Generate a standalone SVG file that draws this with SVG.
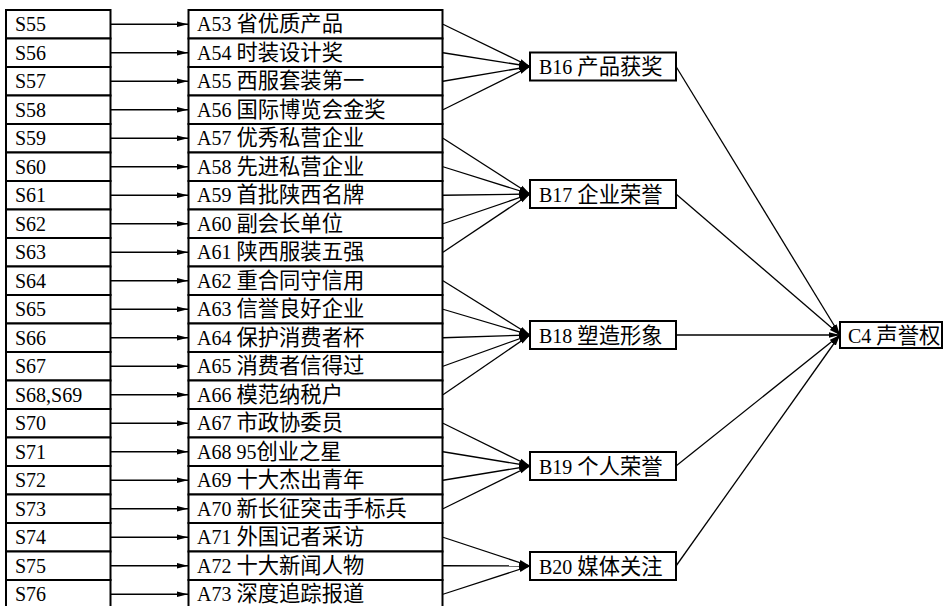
<svg xmlns="http://www.w3.org/2000/svg" width="950" height="606" viewBox="0 0 950 606">
<style>
.bx{fill:#fff;stroke:#000;stroke-width:2}
.t{font-family:"Liberation Serif","Noto Sans CJK SC",serif;font-size:20px;fill:#000}
.c{font-family:"Noto Sans CJK SC",sans-serif;font-size:21.3px}
.ln{stroke:#000;stroke-width:1.3;fill:none;marker-end:url(#ah)}
</style>
<defs>
<marker id="ah" markerWidth="12" markerHeight="7" refX="11" refY="3.5" orient="auto" markerUnits="userSpaceOnUse"><path d="M0,0.8 L11,3.5 L0,6.2 z" fill="#000"/></marker>
</defs>
<rect width="950" height="606" fill="#fff"/>
<g id="connectors">
<line class="ln" x1="111" y1="24.25" x2="188" y2="24.25"/>
<line class="ln" x1="111" y1="52.75" x2="188" y2="52.75"/>
<line class="ln" x1="111" y1="81.25" x2="188" y2="81.25"/>
<line class="ln" x1="111" y1="109.75" x2="188" y2="109.75"/>
<line class="ln" x1="111" y1="138.25" x2="188" y2="138.25"/>
<line class="ln" x1="111" y1="166.75" x2="188" y2="166.75"/>
<line class="ln" x1="111" y1="195.25" x2="188" y2="195.25"/>
<line class="ln" x1="111" y1="223.75" x2="188" y2="223.75"/>
<line class="ln" x1="111" y1="252.25" x2="188" y2="252.25"/>
<line class="ln" x1="111" y1="280.75" x2="188" y2="280.75"/>
<line class="ln" x1="111" y1="309.25" x2="188" y2="309.25"/>
<line class="ln" x1="111" y1="337.75" x2="188" y2="337.75"/>
<line class="ln" x1="111" y1="366.25" x2="188" y2="366.25"/>
<line class="ln" x1="111" y1="394.75" x2="188" y2="394.75"/>
<line class="ln" x1="111" y1="423.25" x2="188" y2="423.25"/>
<line class="ln" x1="111" y1="451.75" x2="188" y2="451.75"/>
<line class="ln" x1="111" y1="480.25" x2="188" y2="480.25"/>
<line class="ln" x1="111" y1="508.75" x2="188" y2="508.75"/>
<line class="ln" x1="111" y1="537.25" x2="188" y2="537.25"/>
<line class="ln" x1="111" y1="565.75" x2="188" y2="565.75"/>
<line class="ln" x1="111" y1="594.25" x2="188" y2="594.25"/>
<line class="ln" x1="443" y1="24.25" x2="530" y2="66.5"/>
<line class="ln" x1="443" y1="52.75" x2="530" y2="66.5"/>
<line class="ln" x1="443" y1="81.25" x2="530" y2="66.5"/>
<line class="ln" x1="443" y1="109.75" x2="530" y2="66.5"/>
<line class="ln" x1="443" y1="138.25" x2="530" y2="194"/>
<line class="ln" x1="443" y1="166.75" x2="530" y2="194"/>
<line class="ln" x1="443" y1="195.25" x2="530" y2="194"/>
<line class="ln" x1="443" y1="223.75" x2="530" y2="194"/>
<line class="ln" x1="443" y1="252.25" x2="530" y2="194"/>
<line class="ln" x1="443" y1="280.75" x2="530" y2="335"/>
<line class="ln" x1="443" y1="309.25" x2="530" y2="335"/>
<line class="ln" x1="443" y1="337.75" x2="530" y2="335"/>
<line class="ln" x1="443" y1="366.25" x2="530" y2="335"/>
<line class="ln" x1="443" y1="394.75" x2="530" y2="335"/>
<line class="ln" x1="443" y1="423.25" x2="530" y2="466"/>
<line class="ln" x1="443" y1="451.75" x2="530" y2="466"/>
<line class="ln" x1="443" y1="480.25" x2="530" y2="466"/>
<line class="ln" x1="443" y1="508.75" x2="530" y2="466"/>
<line class="ln" x1="443" y1="537.25" x2="530" y2="566"/>
<line class="ln" x1="443" y1="565.75" x2="530" y2="566"/>
<line class="ln" x1="443" y1="594.25" x2="530" y2="566"/>
<line class="ln" x1="676" y1="66.5" x2="840" y2="335"/>
<line class="ln" x1="676" y1="194" x2="840" y2="335"/>
<line class="ln" x1="676" y1="335" x2="840" y2="335"/>
<line class="ln" x1="676" y1="466" x2="840" y2="335"/>
<line class="ln" x1="676" y1="566" x2="840" y2="335"/>
</g>
<g id="S55"><rect class="bx" x="6" y="10" width="104.5" height="28.5"/><text class="t" x="15" y="31.25">S55</text></g>
<g id="S56"><rect class="bx" x="6" y="38.5" width="104.5" height="28.5"/><text class="t" x="15" y="59.75">S56</text></g>
<g id="S57"><rect class="bx" x="6" y="67" width="104.5" height="28.5"/><text class="t" x="15" y="88.25">S57</text></g>
<g id="S58"><rect class="bx" x="6" y="95.5" width="104.5" height="28.5"/><text class="t" x="15" y="116.75">S58</text></g>
<g id="S59"><rect class="bx" x="6" y="124" width="104.5" height="28.5"/><text class="t" x="15" y="145.25">S59</text></g>
<g id="S60"><rect class="bx" x="6" y="152.5" width="104.5" height="28.5"/><text class="t" x="15" y="173.75">S60</text></g>
<g id="S61"><rect class="bx" x="6" y="181" width="104.5" height="28.5"/><text class="t" x="15" y="202.25">S61</text></g>
<g id="S62"><rect class="bx" x="6" y="209.5" width="104.5" height="28.5"/><text class="t" x="15" y="230.75">S62</text></g>
<g id="S63"><rect class="bx" x="6" y="238" width="104.5" height="28.5"/><text class="t" x="15" y="259.25">S63</text></g>
<g id="S64"><rect class="bx" x="6" y="266.5" width="104.5" height="28.5"/><text class="t" x="15" y="287.75">S64</text></g>
<g id="S65"><rect class="bx" x="6" y="295" width="104.5" height="28.5"/><text class="t" x="15" y="316.25">S65</text></g>
<g id="S66"><rect class="bx" x="6" y="323.5" width="104.5" height="28.5"/><text class="t" x="15" y="344.75">S66</text></g>
<g id="S67"><rect class="bx" x="6" y="352" width="104.5" height="28.5"/><text class="t" x="15" y="373.25">S67</text></g>
<g id="S68S69"><rect class="bx" x="6" y="380.5" width="104.5" height="28.5"/><text class="t" x="15" y="401.75">S68,S69</text></g>
<g id="S70"><rect class="bx" x="6" y="409" width="104.5" height="28.5"/><text class="t" x="15" y="430.25">S70</text></g>
<g id="S71"><rect class="bx" x="6" y="437.5" width="104.5" height="28.5"/><text class="t" x="15" y="458.75">S71</text></g>
<g id="S72"><rect class="bx" x="6" y="466" width="104.5" height="28.5"/><text class="t" x="15" y="487.25">S72</text></g>
<g id="S73"><rect class="bx" x="6" y="494.5" width="104.5" height="28.5"/><text class="t" x="15" y="515.75">S73</text></g>
<g id="S74"><rect class="bx" x="6" y="523" width="104.5" height="28.5"/><text class="t" x="15" y="544.25">S74</text></g>
<g id="S75"><rect class="bx" x="6" y="551.5" width="104.5" height="28.5"/><text class="t" x="15" y="572.75">S75</text></g>
<g id="S76"><rect class="bx" x="6" y="580" width="104.5" height="28.5"/><text class="t" x="15" y="601.25">S76</text></g>
<g id="A53"><rect class="bx" x="188.5" y="10" width="254" height="28.5"/><text class="t" x="197" y="31.25">A53 <tspan class="c">省优质产品</tspan></text></g>
<g id="A54"><rect class="bx" x="188.5" y="38.5" width="254" height="28.5"/><text class="t" x="197" y="59.75">A54 <tspan class="c">时装设计奖</tspan></text></g>
<g id="A55"><rect class="bx" x="188.5" y="67" width="254" height="28.5"/><text class="t" x="197" y="88.25">A55 <tspan class="c">西服套装第一</tspan></text></g>
<g id="A56"><rect class="bx" x="188.5" y="95.5" width="254" height="28.5"/><text class="t" x="197" y="116.75">A56 <tspan class="c">国际博览会金奖</tspan></text></g>
<g id="A57"><rect class="bx" x="188.5" y="124" width="254" height="28.5"/><text class="t" x="197" y="145.25">A57 <tspan class="c">优秀私营企业</tspan></text></g>
<g id="A58"><rect class="bx" x="188.5" y="152.5" width="254" height="28.5"/><text class="t" x="197" y="173.75">A58 <tspan class="c">先进私营企业</tspan></text></g>
<g id="A59"><rect class="bx" x="188.5" y="181" width="254" height="28.5"/><text class="t" x="197" y="202.25">A59 <tspan class="c">首批陕西名牌</tspan></text></g>
<g id="A60"><rect class="bx" x="188.5" y="209.5" width="254" height="28.5"/><text class="t" x="197" y="230.75">A60 <tspan class="c">副会长单位</tspan></text></g>
<g id="A61"><rect class="bx" x="188.5" y="238" width="254" height="28.5"/><text class="t" x="197" y="259.25">A61 <tspan class="c">陕西服装五强</tspan></text></g>
<g id="A62"><rect class="bx" x="188.5" y="266.5" width="254" height="28.5"/><text class="t" x="197" y="287.75">A62 <tspan class="c">重合同守信用</tspan></text></g>
<g id="A63"><rect class="bx" x="188.5" y="295" width="254" height="28.5"/><text class="t" x="197" y="316.25">A63 <tspan class="c">信誉良好企业</tspan></text></g>
<g id="A64"><rect class="bx" x="188.5" y="323.5" width="254" height="28.5"/><text class="t" x="197" y="344.75">A64 <tspan class="c">保护消费者杯</tspan></text></g>
<g id="A65"><rect class="bx" x="188.5" y="352" width="254" height="28.5"/><text class="t" x="197" y="373.25">A65 <tspan class="c">消费者信得过</tspan></text></g>
<g id="A66"><rect class="bx" x="188.5" y="380.5" width="254" height="28.5"/><text class="t" x="197" y="401.75">A66 <tspan class="c">模范纳税户</tspan></text></g>
<g id="A67"><rect class="bx" x="188.5" y="409" width="254" height="28.5"/><text class="t" x="197" y="430.25">A67 <tspan class="c">市政协委员</tspan></text></g>
<g id="A68"><rect class="bx" x="188.5" y="437.5" width="254" height="28.5"/><text class="t" x="197" y="458.75">A68 95<tspan class="c">创业之星</tspan></text></g>
<g id="A69"><rect class="bx" x="188.5" y="466" width="254" height="28.5"/><text class="t" x="197" y="487.25">A69 <tspan class="c">十大杰出青年</tspan></text></g>
<g id="A70"><rect class="bx" x="188.5" y="494.5" width="254" height="28.5"/><text class="t" x="197" y="515.75">A70 <tspan class="c">新长征突击手标兵</tspan></text></g>
<g id="A71"><rect class="bx" x="188.5" y="523" width="254" height="28.5"/><text class="t" x="197" y="544.25">A71 <tspan class="c">外国记者采访</tspan></text></g>
<g id="A72"><rect class="bx" x="188.5" y="551.5" width="254" height="28.5"/><text class="t" x="197" y="572.75">A72 <tspan class="c">十大新闻人物</tspan></text></g>
<g id="A73"><rect class="bx" x="188.5" y="580" width="254" height="28.5"/><text class="t" x="197" y="601.25">A73 <tspan class="c">深度追踪报道</tspan></text></g>
<g id="B16"><rect class="bx" x="530" y="52.5" width="146" height="28"/><text class="t" x="539" y="74">B16 <tspan class="c">产品获奖</tspan></text></g>
<g id="B17"><rect class="bx" x="530" y="180" width="146" height="28"/><text class="t" x="539" y="201.5">B17 <tspan class="c">企业荣誉</tspan></text></g>
<g id="B18"><rect class="bx" x="530" y="321" width="146" height="28"/><text class="t" x="539" y="342.5">B18 <tspan class="c">塑造形象</tspan></text></g>
<g id="B19"><rect class="bx" x="530" y="452" width="146" height="28"/><text class="t" x="539" y="473.5">B19 <tspan class="c">个人荣誉</tspan></text></g>
<g id="B20"><rect class="bx" x="530" y="552" width="146" height="28"/><text class="t" x="539" y="573.5">B20 <tspan class="c">媒体关注</tspan></text></g>
<g id="C4"><rect class="bx" x="840" y="322" width="102" height="26"/><text class="t" x="848" y="342.5">C4 <tspan class="c">声誉权</tspan></text></g>
</svg>
